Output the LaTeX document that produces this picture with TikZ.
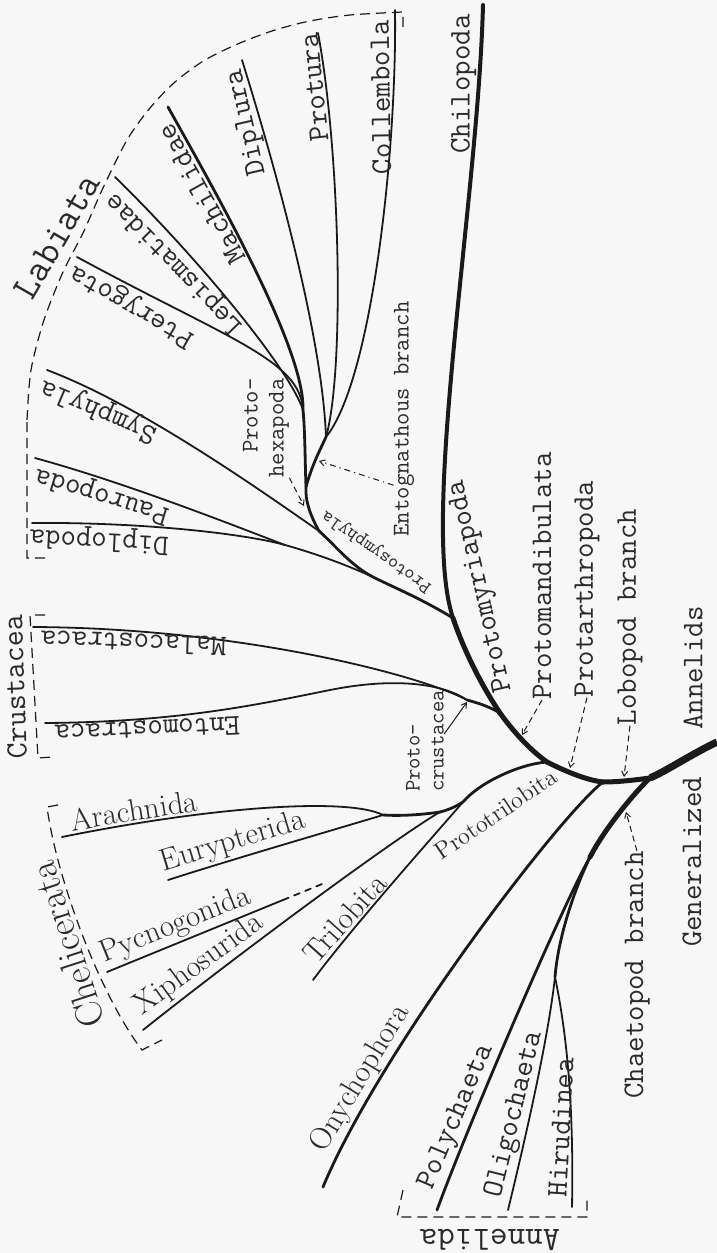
\documentclass[tikz,border=0pt]{standalone}
\usepackage{fontspec}
\usepackage{tikz}
\usetikzlibrary{arrows.meta}
\definecolor{ink}{HTML}{1A1A1A}
\definecolor{paper}{HTML}{F7F7F7}
\definecolor{print}{HTML}{2A2A2A}

\begin{document}
\begin{tikzpicture}[
  x=0.5pt, y=-0.5pt,
  trunk/.style={draw=ink, line width=2.5pt, line cap=round},
  limb/.style={draw=ink, line width=1.4pt, line cap=round},
  twig/.style={draw=ink, line width=0.9pt, line cap=round},
  bracket/.style={draw=ink, line width=0.6pt, dash pattern=on 5pt off 3pt},
  pointer/.style={draw=ink, line width=0.5pt, dash pattern=on 3pt off 2pt,
    -{Straight Barb[length=2.5pt, width=3pt]}},
  taxon/.style={text=print, inner sep=0pt, font=\fontsize{15}{16}\selectfont\ttfamily},
  leaf/.style={taxon, anchor=south, inner sep=1.2pt},
  rleaf/.style={text=print, anchor=south, inner sep=1.2pt, font=\fontsize{15.5}{17}\selectfont\rmfamily},
  minor/.style={text=print, inner sep=0pt, font=\fontsize{12}{13}\selectfont\ttfamily},
  group/.style={text=print, inner sep=0pt, font=\fontsize{17}{18}\selectfont\ttfamily},
]
\path[use as bounding box, fill=paper] (0,0) rectangle (717,1253);

% branch points
\coordinate (root) at (717,742);
\coordinate (split) at (650,778);
\coordinate (lobo) at (603,782);
\coordinate (arth) at (547,762);
\coordinate (mand) at (500,713);
\coordinate (myri) at (453,618);
\coordinate (crus) at (467,700);
\coordinate (tril) at (463,802);
\coordinate (chel) at (440,812);
\coordinate (aeur) at (383,815);
\coordinate (symp) at (373,577);
\coordinate (dipa) at (285,545);
\coordinate (hexa) at (319,531);
\coordinate (entg) at (306,487);
\coordinate (entj) at (326,437);
\coordinate (ptry) at (303,410);
\coordinate (chae) at (590,857);
\coordinate (olig) at (555,977);

% tips
\coordinate (chilT) at (483,5);
\coordinate (collT) at (395,10);
\coordinate (protT) at (318,33);
\coordinate (diplT) at (242,60);
\coordinate (machT) at (168,107);
\coordinate (lepiT) at (115,177);
\coordinate (pterT) at (77,257);
\coordinate (sympT) at (47,370);
\coordinate (paurT) at (35,458);
\coordinate (dipoT) at (32,523);
\coordinate (malaT) at (33,627);
\coordinate (entmT) at (45,723);
\coordinate (aracT) at (62,837);
\coordinate (eurT) at (168,880);
\coordinate (xiphT) at (143,1030);
\coordinate (trilT) at (313,980);
\coordinate (onyT) at (323,1187);
\coordinate (polyT) at (437,1210);
\coordinate (oligT) at (508,1210);
\coordinate (hiruT) at (572,1207);
\coordinate (pycT) at (107,972);
\coordinate (pycE) at (283,900);
\coordinate (pycD) at (327,882);

% group brackets
\draw[bracket] (45,558) -- (27,558) -- (27,420) plot[smooth] coordinates {(27,420) (31,370) (44,320) (63,272) (83,233) (103,188) (127,140) (150,108) (175,82) (205,60) (240,43) (275,30) (310,21) (350,15) (403,12)} -- (403,27);
\draw[bracket] (45,615) -- (30,615) -- (38,758) -- (53,757);
\draw[bracket] (58,805) -- (47,807) .. controls (57,880) and (100,995) .. (142,1050) -- (162,1040);
\draw[bracket] (403,1190) -- (397,1217) -- (587,1217) -- (587,1195);

% annelid stock
\draw[draw=ink, line width=3.6pt] (root) .. controls (690,755) and (668,770) .. (split);
\draw[trunk] (split) .. controls (635,792) and (605,828) .. (chae);
\draw[limb] (chae) .. controls (565,900) and (470,1120) .. (polyT);
\draw[limb] (chae) .. controls (572,895) and (558,940) .. (olig);
\draw[twig] (olig) .. controls (548,1040) and (525,1140) .. (oligT);
\draw[twig] (olig) .. controls (566,1030) and (574,1100) .. (hiruT);

% lobopod stock
\draw[trunk] (split) .. controls (635,780) and (618,782) .. (lobo);
\draw[limb] (lobo) .. controls (560,815) and (380,1050) .. (onyT);
\draw[trunk] (lobo) .. controls (585,780) and (563,770) .. (arth);

% trilobite and chelicerate side
\draw[limb] (arth) .. controls (520,764) and (480,782) .. (tril);
\draw[twig] (tril) .. controls (430,840) and (350,930) .. (trilT);
\draw[limb] (tril) .. controls (455,807) and (448,810) .. (chel);
\draw[limb] (chel) .. controls (420,815) and (400,816) .. (aeur);
\draw[twig] (chel) .. controls (400,835) and (250,945) .. (xiphT);
\draw[twig] (aeur) .. controls (350,798) and (220,805) .. (aracT);
\draw[twig] (aeur) .. controls (340,828) and (230,860) .. (eurT);
\draw[twig] (pycT) -- (pycE);
\draw[twig, dashed] (pycE) -- (pycD);

% mandibulate side
\draw[trunk] (arth) .. controls (530,750) and (512,730) .. (mand);
\draw[limb] (mand) .. controls (488,706) and (478,703) .. (crus);
\draw[twig] (crus) .. controls (420,675) and (240,628) .. (malaT);
\draw[twig] (crus) .. controls (440,682) and (390,678) .. (330,690) .. controls (260,704) and (180,722) .. (entmT);
\draw[trunk] (mand) .. controls (478,680) and (462,645) .. (myri);
\draw[draw=ink, line width=2pt, line cap=round] (myri) .. controls (420,520) and (478,200) .. (chilT);
\draw[limb] (myri) .. controls (420,598) and (395,588) .. (symp) .. controls (350,565) and (335,545) .. (hexa);
\draw[twig] (symp) .. controls (340,562) and (310,552) .. (dipa);
\draw[twig] (dipa) .. controls (250,535) and (150,522) .. (dipoT);
\draw[twig] (dipa) .. controls (240,528) and (130,484) .. (paurT);
\draw[twig] (hexa) .. controls (260,490) and (140,405) .. (sympT);
\draw[limb] (hexa) .. controls (310,515) and (305,500) .. (entg) .. controls (305,460) and (305,430) .. (ptry);
\draw[limb] (entg) .. controls (312,465) and (320,450) .. (entj);
\draw[twig] (entj) .. controls (322,330) and (270,150) .. (diplT);
\draw[twig] (entj) .. controls (345,370) and (340,150) .. (protT);
\draw[twig] (entj) .. controls (372,380) and (397,150) .. (collT);
\draw[limb] (ptry) .. controls (305,350) and (220,200) .. (machT);
\draw[twig] (ptry) .. controls (290,370) and (200,260) .. (lepiT);
\draw[twig] (ptry) .. controls (300,360) and (230,340) .. (pterT);

% leaf names, sitting on their lines
\node[leaf, rotate=90] (lchil) at (479,84) {Chilopoda};
\node[leaf, rotate=91] (lcoll) at (393,97) {Collembola};
\node[leaf, rotate=96] (lprot) at (326,86) {Protura};
\node[leaf, rotate=103] (ldipl) at (262,119) {Diplura};
\node[leaf, rotate=119] (lmach) at (212,188) {Machilidae};
\node[leaf, rotate=134] (llepi) at (186,252) {Lepismatidae};
\node[leaf, rotate=150] (lpter) at (140,292) {Pterygota};
\node[leaf, rotate=157] (lsymp) at (105,396) {Symphyla};
\node[leaf, rotate=163] (lpaur) at (107,480) {Pauropoda};
\node[leaf, rotate=177] (ldipo) at (100,524) {Diplopoda};
\node[leaf, rotate=178] (lmala) at (134,631) {Malacostraca};
\node[leaf, rotate=182.5] (lentm) at (147,718) {Entomostraca};
\node[rleaf, rotate=9] (larac) at (136,824) {Arachnida};
\node[rleaf, rotate=17] (leury) at (238,858) {Eurypterida};
\node[rleaf, rotate=22] (lpycn) at (182,941) {Pycnogonida};
\node[rleaf, rotate=36] (lxiph) at (209,978) {Xiphosurida};
\node[rleaf, rotate=48] (ltril) at (355,927) {Trilobita};
\node[rleaf, rotate=59] (lonyc) at (375,1087) {Onychophora};
\node[leaf, rotate=67] (lpoly) at (471,1123) {Polychaeta};
\node[leaf, rotate=76] (lolig) at (530,1118) {Oligochaeta};
\node[leaf, rotate=87] (lhiru) at (573,1128) {Hirudinea};

% stem names
\node[taxon, rotate=103] (lmyri) at (481,586) {Protomyriapoda};
\node[taxon, rotate=90] (lmand) at (542,576) {Protomandibulata};
\node[taxon, rotate=90] (larth) at (587,589) {Protarthropoda};
\node[taxon, rotate=90] (llobo) at (630,617) {Lobopod branch};
\node[taxon, rotate=90] (lchae) at (637,975) {Chaetopod branch};
\node[taxon, rotate=90] (lanns) at (693,668) {Annelids};
\node[taxon, rotate=90] (lgene) at (692,862) {Generalized};
\node[text=print, inner sep=0pt, font=\fontsize{9.5}{10}\selectfont\ttfamily, rotate=145] (lpsym) at (377,551) {Protosymphyla};
\node[text=print, inner sep=0pt, font=\fontsize{12}{13}\selectfont\rmfamily, rotate=34] (lptri) at (496,814) {Prototrilobita};
\node[minor, rotate=90, align=right] (lhexa) at (266,428) {Proto-\\hexapoda};
\node[minor, rotate=90, align=left, font=\fontsize{11}{12}\selectfont\ttfamily] (lcrus) at (425,741) {Proto-\\crustacea};
\node[minor, rotate=90] (lentg) at (404,419) {Entognathous branch};

% group names
\node[group, rotate=60, font=\fontsize{19}{20}\selectfont\ttfamily] (glabi) at (57,236) {Labiata};
\node[group, rotate=92, font=\fontsize{15.5}{16}\selectfont\ttfamily] (gcrus) at (15,687) {Crustacea};
\node[text=print, inner sep=0pt, rotate=108, font=\fontsize{19}{20}\selectfont\rmfamily] (gchel) at (67,945) {Chelicerata};
\node[group, rotate=180] (gann) at (490,1240) {Annelida};

% pointers
\coordinate (mandP) at (522,735);
\coordinate (arthP) at (570,768);
\coordinate (loboP) at (624,777);
\coordinate (chaeP) at (626,812);
\coordinate (crusP) at (467,702);
\coordinate (hexaP) at (304,506);
\coordinate (entgP) at (319,461);
\draw[pointer] (lmand.west) -- (mandP);
\draw[pointer] (larth.west) -- (arthP);
\draw[pointer] (llobo.west) -- (loboP);
\draw[pointer] (lchae.east) -- (chaeP);
\draw[pointer, solid] (lcrus.-70) -- (crusP);
\draw[pointer] (lhexa.south west) -- (hexaP);
\draw[pointer, dash pattern=on 3pt off 2pt on 0.6pt off 2pt] (lentg.171) -- (entgP);
\end{tikzpicture}
\end{document}
